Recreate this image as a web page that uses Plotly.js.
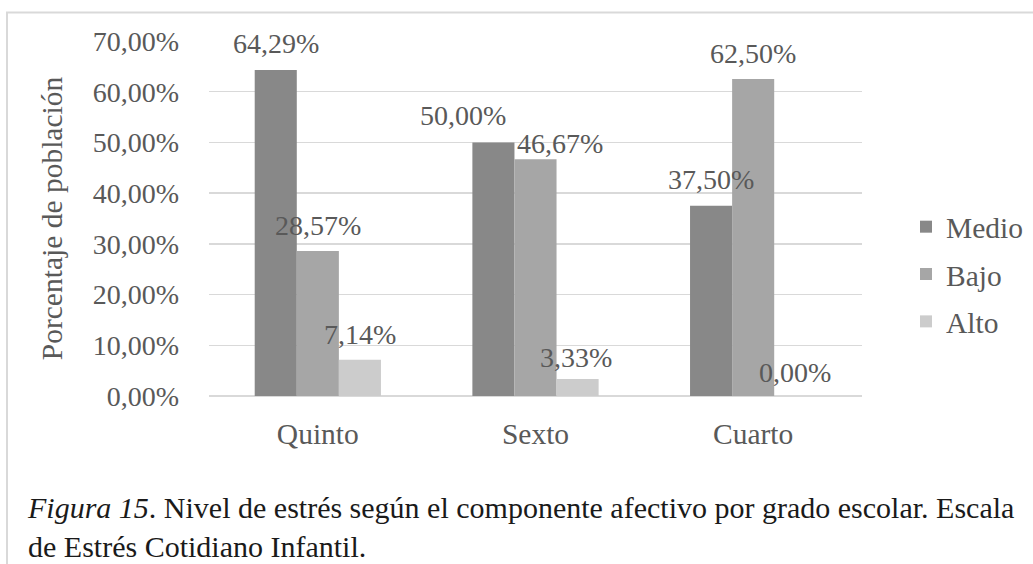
<!DOCTYPE html>
<html>
<head>
<meta charset="utf-8">
<script src="https://cdn.plot.ly/plotly-3.0.1.min.js"></script>
<style>
  html, body { margin: 0; padding: 0; background: #ffffff; }
  #chart { width: 1033px; height: 564px; }
</style>
</head>
<body>
<div id="chart"></div>
<script>
// ---- data ----
const categories = ["Quinto", "Sexto", "Cuarto"];
const seriesNames = ["Medio", "Bajo", "Alto"];
const medio = [64.29, 50.00, 37.50];
const bajo  = [28.57, 46.67, 62.50];
const alto  = [7.14, 3.33, 0.00];
const yTicks = [0, 10, 20, 30, 40, 50, 60, 70];
const caption = "<i>Figura 15</i>. Nivel de estrés según el componente afectivo por grado escolar. Escala<br>de Estrés Cotidiano Infantil.";
const yTitle = "Porcentaje de población";

// ---- styles ----
const colors = ["#888888", "#a6a6a6", "#cccccc"];
const FONT = "Liberation Serif, Times New Roman, serif";
const TXT = "#595959";
const BARGAP = 0.42;
// label offsets (pixels) per series per category: [xshift, yshift]
const labelShift = [
  [[0, 26], [-30, 27], [0, 26]],
  [[0, 26], [24, 16], [0, 26]],
  [[0, 25], [-2, 22], [0, 24]]
];

const fmtPct = v => v.toFixed(2).replace(".", ",") + "%";

const allSeries = [medio, bajo, alto];
const traces = allSeries.map((vals, s) => ({
  type: "bar",
  name: seriesNames[s],
  legendgroup: seriesNames[s],
  x: categories,
  y: vals,
  marker: { color: colors[s] },
  hoverinfo: "skip"
}));

const barW = (1 - BARGAP) / allSeries.length;
const annotations = [];
allSeries.forEach((vals, s) => {
  vals.forEach((v, c) => {
    annotations.push({
      xref: "x", yref: "y",
      x: c + (s - (allSeries.length - 1) / 2) * barW,
      y: v,
      text: fmtPct(v),
      showarrow: false,
      xanchor: "center", yanchor: "middle",
      xshift: labelShift[s][c][0],
      yshift: labelShift[s][c][1],
      font: { family: FONT, size: 28, color: TXT }
    });
  });
});

const layout = {
  width: 1033, height: 564,
  margin: { l: 209, r: 171, t: 41, b: 168, autoexpand: false },
  paper_bgcolor: "#ffffff",
  plot_bgcolor: "#ffffff",
  barmode: "group",
  bargap: BARGAP,
  bargroupgap: 0,
  font: { family: FONT, size: 28, color: TXT },
  title: {
    text: caption,
    xref: "container", yref: "container",
    x: 28 / 1033, xanchor: "left",
    y: 1 - 518 / 564, yanchor: "top",
    font: { family: FONT, size: 30, color: "#1a1a1a" }
  },
  xaxis: {
    type: "category",
    showgrid: false,
    showline: false,
    zeroline: false,
    ticks: "",
    ticklabelstandoff: 17,
    tickfont: { family: FONT, size: 29.5, color: TXT },
    fixedrange: true
  },
  yaxis: {
    range: [0, 70],
    tickmode: "array",
    tickvals: yTicks,
    ticktext: yTicks.map(fmtPct),
    showgrid: true,
    gridcolor: "#d9d9d9",
    gridwidth: 1.5,
    zeroline: true,
    zerolinecolor: "#d9d9d9",
    zerolinewidth: 2,
    showline: false,
    ticks: "",
    ticklabelstandoff: 29,
    tickfont: { family: FONT, size: 28, color: TXT },
    title: { text: yTitle, standoff: 21, font: { family: FONT, size: 29.5, color: TXT } },
    fixedrange: true
  },
  legend: {
    x: (906 - 209) / 653, xanchor: "left",
    y: (396 - 201) / 355, yanchor: "top",
    tracegroupgap: 6,
    font: { family: FONT, size: 29.5, color: TXT },
    bgcolor: "rgba(0,0,0,0)",
    itemclick: false, itemdoubleclick: false
  },
  showlegend: true,
  annotations: annotations,
  shapes: [{
    type: "rect", xref: "paper", yref: "paper",
    x0: (7 - 209) / 653, x1: (1200 - 209) / 653,
    y0: (396 - 800) / 355, y1: (396 - 12.5) / 355,
    line: { color: "#d9d9d9", width: 2 },
    fillcolor: "rgba(0,0,0,0)",
    layer: "below"
  }]
};

Plotly.newPlot("chart", traces, layout, { displayModeBar: false, staticPlot: true });
</script>
</body>
</html>
